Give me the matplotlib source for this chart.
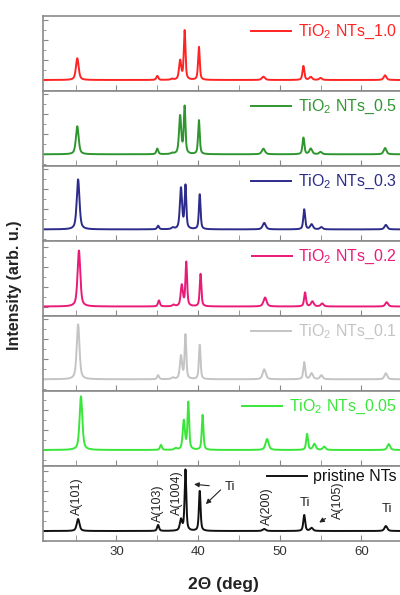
import numpy as np
import matplotlib.pyplot as plt
from matplotlib.ticker import MultipleLocator

plt.rcParams["font.family"] = ["Liberation Sans", "DejaVu Sans"]
plt.rcParams["mathtext.fontset"] = "custom"
plt.rcParams["mathtext.rm"] = "Liberation Sans"
plt.rcParams["mathtext.it"] = "Liberation Sans:italic"
plt.rcParams["mathtext.bf"] = "Liberation Sans:bold"

# reflections (2-theta, deg) and their widths
peak_pos = [25.3, 35.1, 36.9, 37.9, 38.45, 40.2, 48.1, 53.0, 53.9, 55.1, 63.0]
peak_fwhm = [0.4, 0.28, 0.35, 0.32, 0.24, 0.24, 0.45, 0.27, 0.4, 0.4, 0.4]

# peak heights per sample (arb. u.), top panel first
h_10 = [21.7, 4.0, 1.0, 19.0, 49.0, 33.0, 3.3, 14.0, 3.0, 2.0, 4.7]
h_05 = [28.0, 5.6, 1.0, 38.0, 47.0, 34.0, 5.6, 16.6, 5.6, 2.3, 6.3]
h_03 = [50.0, 3.6, 1.5, 41.0, 43.0, 35.0, 6.5, 20.0, 5.0, 2.2, 4.5]
h_02 = [56.0, 6.0, 1.5, 21.0, 44.0, 32.5, 9.0, 14.0, 5.0, 3.0, 4.3]
h_01 = [55.0, 4.0, 1.5, 23.0, 44.0, 34.5, 10.0, 17.0, 6.0, 4.0, 6.0]
h_005 = [53.7, 5.0, 1.5, 29.0, 47.0, 35.0, 11.0, 16.0, 6.0, 3.3, 6.0]
h_pristine = [12.0, 6.0, 0.0, 11.0, 61.0, 40.0, 2.0, 16.0, 3.0, 0.0, 5.0]

sample_heights = [h_10, h_05, h_03, h_02, h_01, h_005, h_pristine]
peak_shift = [-0.1, -0.1, 0.0, 0.1, 0.0, 0.35, 0.0]
sample_labels = [
    "TiO$_2$ NTs_1.0",
    "TiO$_2$ NTs_0.5",
    "TiO$_2$ NTs_0.3",
    "TiO$_2$ NTs_0.2",
    "TiO$_2$ NTs_0.1",
    "TiO$_2$ NTs_0.05",
    "pristine NTs",
]

colors = ["#ff2424", "#2f962f", "#2c2c8a", "#ea1a78", "#c4c4c4", "#3ae63a", "#111111"]
base_offset = [11.0, 11.7, 11.6, 9.5, 11.7, 16.0, 10.0]
legend_drop = [0.905, 0.905, 0.905, 0.905, 0.905, 0.905, 0.955]

# pristine-pattern annotations: (text, x, y)
phase_labels = [
    ("A(101)", 25.2, 16.0),
    ("A(103)", 35.06, 9.3),
    ("A(1004)", 37.35, 16.0),
    ("A(200)", 48.4, 6.0),
    ("A(105)", 57.1, 12.0),
]
ti_labels = [(43.9, 44.0), (53.1, 28.3), (63.1, 22.0)]
arrows = [((41.7, 45.0), (39.17, 47.0)), ((43.0, 43.0), (40.7, 25.0)), ((55.9, 14.0), (54.55, 7.0))]


def pattern(x, heights, shift):
    """Pseudo-Voigt sum of the listed reflections."""
    y = np.zeros_like(x)
    for pos, w, h in zip(peak_pos, peak_fwhm, heights):
        d = x - (pos + shift)
        lor = 1.0 / (1.0 + (2 * d / w) ** 2)
        gau = np.exp(-4 * np.log(2) * (d / w) ** 2)
        y += h * (0.6 * lor + 0.4 * gau)
    return y


x = np.linspace(21, 66, 3000)

fig, axes = plt.subplots(7, 1, sharex=True, figsize=(4, 5.95), dpi=100,
                         gridspec_kw=dict(hspace=0))
fig.subplots_adjust(left=43 / 400, right=403 / 400, top=1 - 16 / 595, bottom=1 - 541 / 595)

for ax, heights, shift, label, c, off, drop in zip(
    axes, sample_heights, peak_shift, sample_labels, colors, base_offset, legend_drop
):
    ax.plot(x, pattern(x, heights, shift), color=c, lw=1.4, label=label)
    ax.set_ylim(-off, 75 - off)
    ax.set_xlim(21, 65.1)
    ax.xaxis.set_major_locator(MultipleLocator(10))
    ax.xaxis.set_minor_locator(MultipleLocator(5))
    ax.yaxis.set_major_locator(MultipleLocator(20))
    ax.yaxis.set_minor_locator(MultipleLocator(10))
    ax.tick_params(which="both", direction="in", color="#888888", labelsize=9.5,
                   labelcolor="#333333", pad=3.5)
    ax.tick_params(axis="x", which="both", length=4.5)
    ax.tick_params(axis="y", which="major", length=3.5, labelleft=False)
    ax.tick_params(axis="y", which="minor", length=2)
    for sp in ax.spines.values():
        sp.set_color("#8a8a8a")
        sp.set_linewidth(1.2)
    ax.legend(loc="upper right", bbox_to_anchor=(0.982, drop), frameon=False,
              fontsize=11.5, handlelength=2.5, handletextpad=0.4,
              borderaxespad=0, borderpad=0, labelcolor="linecolor")

ax = axes[-1]
for text, tx, ty in phase_labels:
    ax.text(tx, ty, text, rotation=90, ha="center", va="bottom", fontsize=9, color="#222222")
for tx, ty in ti_labels:
    ax.text(tx, ty, "Ti", ha="center", va="center", fontsize=9.5, color="#222222")
for start, end in arrows:
    ax.annotate("", xy=end, xytext=start,
                arrowprops=dict(arrowstyle="-|>", color="#222222", lw=0.8, mutation_scale=7))

fig.text(15 / 400, 1 - 285 / 595, "Intensity (arb. u.)", rotation=90, ha="center",
         va="center", fontsize=11.5, fontweight="bold", color="#222222")
fig.text(223 / 400, 1 - 584 / 595, "2\u0398 (deg)", ha="center", va="center",
         fontsize=12.5, fontweight="bold", color="#222222")

fig.savefig("out.png", dpi=100)
